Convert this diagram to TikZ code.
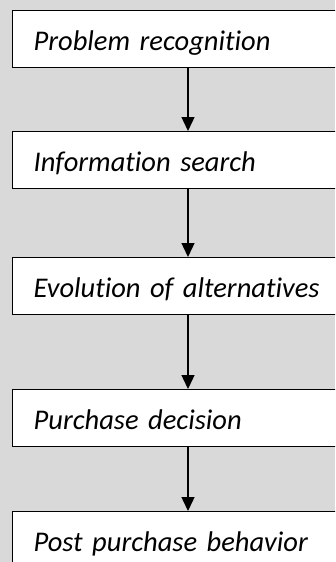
\documentclass[tikz,border=0pt]{standalone}
\usepackage{fontspec}
\setmainfont{Carlito}[Ligatures=NoCommon]
\usetikzlibrary{arrows.meta}

\tikzset{
    stage/.style={draw, line width=1.3pt, fill=white, anchor=north west,
        minimum height=57pt, text width=298pt, inner xsep=21pt, align=left,
        text height=24pt, text depth=2pt,
        font=\fontsize{28.5}{32}\selectfont\itshape},
    flow/.style={line width=1.4pt, -{Triangle[width=13pt,length=14pt]}}
}

\begin{document}
\begin{tikzpicture}[x=1pt, y=-1pt]
    \useasboundingbox (0,0) rectangle (335,562);
    \clip (0,0) rectangle (335,562);
    \fill [black!15] (0,0) rectangle (335,562);

    % stages, top edge of each box
    \node [stage] (recog) at (12,10) {Problem recognition};
    \node [stage] (search) at (12,131) {Information search};
    \node [stage] (evol) at (12,257) {Evolution of alternatives};
    \node [stage] (decide) at (12,389) {Purchase decision};
    \node [stage] (post) at (12,511) {Post purchase behavior};

    % arrows run down this line
    \coordinate (ax) at (188,0);

    \draw [flow] (recog.south -| ax) -- (search.north -| ax);
    \draw [flow] (search.south -| ax) -- (evol.north -| ax);
    \draw [flow] (evol.south -| ax) -- (decide.north -| ax);
    \draw [flow] (decide.south -| ax) -- (post.north -| ax);

\end{tikzpicture}
\end{document}
